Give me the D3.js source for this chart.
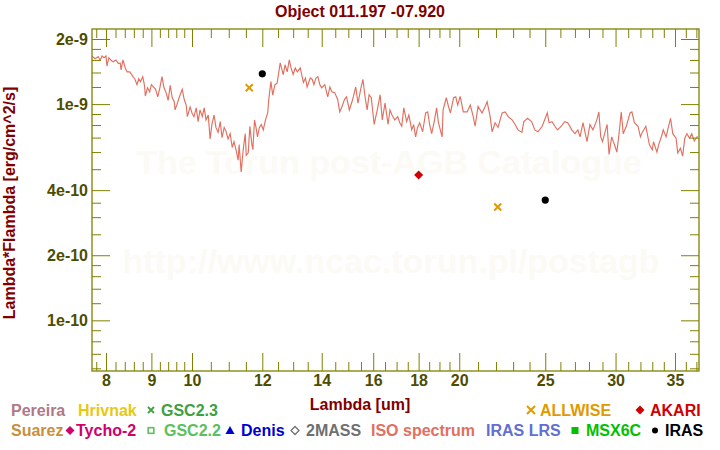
<!DOCTYPE html>
<html><head><meta charset="utf-8">
<script src="https://cdn.jsdelivr.net/npm/d3@7"></script>
<style>body{margin:0;background:#fff}svg{display:block}</style>
</head><body><svg id="c" width="720" height="450"></svg>
<script>
const chartTitle = "Object 011.197 -07.920";
const xTitle = "Lambda [um]";
const yTitle = "Lambda*Flambda [erg/cm^2/s]";

// ISO spectrum (wavelength in um, lambda*F_lambda in erg/cm^2/s)
const isoWave = [7.72,7.78,7.84,7.88,7.92,7.96,8.00,8.02,8.06,8.11,8.15,8.21,8.26,8.30,8.32,8.36,8.41,8.45,8.51,8.58,8.62,8.67,8.71,8.75,8.80,8.84,8.86,8.91,8.96,9.00,
9.10,9.15,9.20,9.25,9.30,9.35,9.40,9.45,9.50,9.55,9.57,9.62,9.67,9.75,9.80,9.85,9.88,9.95,10.00,10.05,10.11,10.16,10.21,10.27,10.32,10.37,10.43,10.48,10.53,10.59,
10.64,10.70,10.76,10.81,10.87,10.92,10.98,11.04,11.10,11.15,11.21,11.27,11.30,11.36,11.42,11.48,11.51,11.57,11.62,11.68,11.71,11.76,11.82,11.85,11.91,11.97,12.03,12.10,12.17,12.20,
12.27,12.33,12.40,12.47,12.57,12.67,12.73,12.80,12.87,12.93,13.00,13.07,13.14,13.24,13.35,13.42,13.48,13.59,13.66,13.72,13.79,13.86,13.93,14.00,14.11,14.22,14.30,14.37,14.48,14.59,
14.67,14.78,14.85,14.93,15.04,15.17,15.29,15.38,15.50,15.58,15.67,15.75,15.83,15.92,16.04,16.17,16.29,16.38,16.50,16.63,16.71,16.80,16.92,17.05,17.14,17.23,17.32,17.45,17.55,17.68,
17.77,17.86,17.95,18.05,18.19,18.33,18.43,18.52,18.62,18.76,18.86,18.95,19.13,19.18,19.34,19.45,19.55,19.71,19.82,19.92,20.05,20.21,20.42,20.58,20.74,20.84,21.00,21.22,21.39,21.50,
21.67,21.78,21.95,22.12,22.35,22.53,22.71,22.94,23.12,23.29,23.53,23.65,23.88,24.13,24.33,24.53,24.80,25.00,25.13,25.25,25.44,25.63,25.81,26.06,26.29,26.50,26.78,27.00,27.21,27.36,
27.57,27.86,28.07,28.29,28.58,28.73,28.87,29.00,29.35,29.50,29.70,29.95,30.10,30.25,30.45,30.60,30.85,31.15,31.30,31.50,31.80,32.00,32.15,32.45,32.75,33.00,33.10,33.40,33.55,33.80,
33.95,34.20,34.40,34.60,34.80,35.10,35.25,35.50,35.70,35.90,36.10,36.35,36.55,36.80,37.10];
const isoFlux = [16.6e-10,16.2e-10,16.6e-10,16.0e-10,16.7e-10,16.4e-10,16.7e-10,15.0e-10,16.4e-10,15.9e-10,15.7e-10,16.0e-10,15.4e-10,15.5e-10,14.4e-10,16.0e-10,14.7e-10,14.1e-10,14.1e-10,13.4e-10,13.1e-10,12.3e-10,13.1e-10,12.7e-10,13.4e-10,12.2e-10,10.9e-10,11.9e-10,11.4e-10,12.3e-10,
11.7e-10,10.8e-10,11.9e-10,13.4e-10,11.9e-10,11.3e-10,10.4e-10,12.2e-10,10.7e-10,10.25e-10,9.4e-10,10.0e-10,10.7e-10,11.7e-10,10.5e-10,9.9e-10,8.75e-10,9.7e-10,9.1e-10,8.75e-10,9.6e-10,8.3e-10,9.4e-10,8.75e-10,9.6e-10,8.45e-10,8.9e-10,6.9e-10,8.05e-10,8.9e-10,
7.8e-10,7.4e-10,8.3e-10,7.0e-10,7.8e-10,7.5e-10,6.9e-10,7.3e-10,6.3e-10,6.7e-10,6.15e-10,5.5e-10,6.5e-10,4.85e-10,6.15e-10,7.3e-10,5.8e-10,5.95e-10,7.9e-10,6.5e-10,6.15e-10,8.45e-10,7.6e-10,7.05e-10,7.8e-10,8.05e-10,7.6e-10,8.45e-10,9.1e-10,10.4e-10,
12.7e-10,11.0e-10,12.3e-10,12.5e-10,15.5e-10,13.7e-10,15.2e-10,14.1e-10,16.0e-10,14.7e-10,13.7e-10,14.7e-10,14.1e-10,14.7e-10,12.6e-10,13.2e-10,12.0e-10,13.2e-10,13.0e-10,12.3e-10,13.2e-10,13.4e-10,12.3e-10,11.9e-10,12.3e-10,10.8e-10,12.0e-10,11.4e-10,11.3e-10,10.5e-10,
9.2e-10,9.9e-10,10.5e-10,10.8e-10,9.4e-10,10.5e-10,12.0e-10,10.1e-10,11.9e-10,13.0e-10,10.7e-10,9.4e-10,11.05e-10,10.7e-10,8.05e-10,9.4e-10,11.05e-10,8.45e-10,10.1e-10,8.05e-10,9.4e-10,8.9e-10,8.45e-10,8.75e-10,8.2e-10,7.9e-10,9.6e-10,8.3e-10,8.9e-10,7.6e-10,
8.05e-10,7.05e-10,7.8e-10,8.2e-10,7.45e-10,9.1e-10,9.2e-10,8.05e-10,7.3e-10,8.45e-10,9.6e-10,8.2e-10,7.05e-10,9.4e-10,10.7e-10,9.75e-10,9.1e-10,10.7e-10,10.8e-10,9.9e-10,10.85e-10,9.2e-10,9.2e-10,9.9e-10,8.75e-10,7.9e-10,9.75e-10,9.1e-10,9.75e-10,10.25e-10,
8.75e-10,7.45e-10,8.2e-10,7.8e-10,9.1e-10,9.2e-10,8.75e-10,8.45e-10,8.05e-10,7.6e-10,7.4e-10,8.3e-10,8.6e-10,8.3e-10,7.6e-10,7.45e-10,7.9e-10,8.6e-10,9.1e-10,8.2e-10,8.3e-10,7.9e-10,7.6e-10,7.9e-10,8.3e-10,8.2e-10,7.6e-10,7.3e-10,7.6e-10,7.05e-10,
8.2e-10,6.7e-10,8.05e-10,7.6e-10,8.45e-10,9.2e-10,7.05e-10,6.7e-10,8.05e-10,5.85e-10,7.05e-10,6.4e-10,6.0e-10,7.1e-10,9.2e-10,7.3e-10,7.9e-10,9.1e-10,9.2e-10,8.2e-10,7.9e-10,7.05e-10,7.4e-10,7.9e-10,6.5e-10,6.15e-10,6.7e-10,6.0e-10,6.5e-10,7.1e-10,
7.6e-10,7.05e-10,7.8e-10,8.6e-10,7.3e-10,6.95e-10,5.95e-10,6.25e-10,5.75e-10,6.95e-10,7.3e-10,6.95e-10,7.3e-10,6.75e-10,7.1e-10];

// Photometry
const allwiseWave = [11.6, 22.1];
const allwiseFlux = [1.19e-9, 3.34e-10];
const irasWave = [12, 25];
const irasFlux = [1.38e-9, 3.6e-10];
const akariWave = [18];
const akariFlux = [4.7e-10];

// Ticks
const xMajor = [8,9,10,12,14,16,18,20,25,30,35];
const xMinor = [7.8,8.2,8.4,8.6,8.8,9.2,9.4,9.6,9.8,10.5,11,11.5,12.5,13,13.5,14.5,15,15.5,16.5,17,17.5,18.5,19,19.5,21,22,23,24,26,27,28,29,31,32,33,34,36,37];
const yMajor = [1e-10,2e-10,4e-10,1e-9,2e-9];
const yMajorLabels = ["1e-10","2e-10","4e-10","1e-9","2e-9"];
const yMinor = [6e-11,7e-11,8e-11,9e-11,1.2e-10,1.4e-10,1.6e-10,1.8e-10,2.5e-10,3e-10,3.5e-10,5e-10,6e-10,7e-10,8e-10,9e-10,1.2e-9,1.4e-9,1.6e-9,1.8e-9];

const watermark = ["The Torun post-AGB Catalogue", "http://www.ncac.torun.pl/postagb"];

const FONT = "'Liberation Sans', Arial, Helvetica, sans-serif";
const AX = "#808000", TICKTXT = "#4d4d00", DARKRED = "#800000", ISOC = "#e07060";
const L = 92, R = 699, T = 29, B = 371;

const svg = d3.select("#c");
svg.append("rect").attr("width",720).attr("height",450).attr("fill","#fff");

const x = d3.scaleLog().domain([7.715, 37.25]).range([L, R]);
const y = d3.scaleLog().domain([5.83e-11, 2.225e-9]).range([B, T]);

// watermark
svg.selectAll("text.wm").data(watermark).join("text")
  .attr("x", (d,i)=> i===0 ? 389 : 391).attr("y",(d,i)=> i===0 ? 174 : 273)
  .attr("text-anchor","middle")
  .style("font-family",FONT).style("font-weight","bold").style("font-size","34px")
  .attr("fill","#fbfaf5").text(d=>d);

// clip
svg.append("clipPath").attr("id","clip").append("rect").attr("x",L).attr("y",T).attr("width",R-L).attr("height",B-T);

// spectrum
const iso = isoWave.map((w,i)=>[w, isoFlux[i]]);
svg.append("path").datum(iso).attr("clip-path","url(#clip)")
  .attr("fill","none").attr("stroke",ISOC).attr("stroke-width",1.15)
  .attr("d", d3.line().x(d=>x(d[0])).y(d=>y(d[1])));

// axes
function styleAxis(g){
  g.attr("font-family",null).attr("font-size",null);
  g.select(".domain").remove();
  g.selectAll(".tick line").attr("stroke",AX).attr("stroke-width",1);
  g.selectAll(".tick text").style("font-family",FONT).style("font-weight","bold").style("font-size","16px").attr("fill",TICKTXT);
}
const ax = [
  [d3.axisBottom(x).tickValues(xMajor).tickSizeInner(-18).tickSizeOuter(0).tickPadding(4).tickFormat(d=>d), `translate(0,${B})`],
  [d3.axisBottom(x).tickValues(xMinor).tickSizeInner(-9).tickSizeOuter(0).tickFormat(""), `translate(0,${B})`],
  [d3.axisTop(x).tickValues(xMajor).tickSizeInner(-18).tickSizeOuter(0).tickFormat(""), `translate(0,${T})`],
  [d3.axisTop(x).tickValues(xMinor).tickSizeInner(-9).tickSizeOuter(0).tickFormat(""), `translate(0,${T})`],
  [d3.axisLeft(y).tickValues(yMajor).tickSizeInner(-18).tickSizeOuter(0).tickPadding(4).tickFormat((d,i)=>yMajorLabels[i]), `translate(${L},0)`],
  [d3.axisLeft(y).tickValues(yMinor).tickSizeInner(-9).tickSizeOuter(0).tickFormat(""), `translate(${L},0)`],
  [d3.axisRight(y).tickValues(yMajor).tickSizeInner(-18).tickSizeOuter(0).tickFormat(""), `translate(${R},0)`],
  [d3.axisRight(y).tickValues(yMinor).tickSizeInner(-9).tickSizeOuter(0).tickFormat(""), `translate(${R},0)`]
];
ax.forEach(([a,t])=>{ const g = svg.append("g").attr("transform",t).call(a); styleAxis(g); });

svg.append("rect").attr("x",L).attr("y",T).attr("width",R-L).attr("height",B-T)
  .attr("fill","none").attr("stroke",AX).attr("stroke-width",1.3);

// photometry markers
const allwise = allwiseWave.map((w,i)=>[w, allwiseFlux[i]]);
svg.selectAll("path.aw").data(allwise).join("path")
  .attr("transform",d=>`translate(${x(d[0])},${y(d[1])})`)
  .attr("d","M-3.5,-3.5L3.5,3.5M-3.5,3.5L3.5,-3.5").attr("stroke","#e09a00").attr("stroke-width",2).attr("fill","none");
const iras = irasWave.map((w,i)=>[w, irasFlux[i]]);
svg.selectAll("circle.ir").data(iras).join("circle")
  .attr("cx",d=>x(d[0])).attr("cy",d=>y(d[1])).attr("r",3.6).attr("fill","#000");
const akari = akariWave.map((w,i)=>[w, akariFlux[i]]);
svg.selectAll("path.ak").data(akari).join("path")
  .attr("transform",d=>`translate(${x(d[0])},${y(d[1])})`)
  .attr("d","M0,-4.5L4.5,0L0,4.5L-4.5,0Z").attr("fill","#d00000");

// titles
function txt(s, xx, yy, color, size, anchor){
  return svg.append("text").attr("x",xx).attr("y",yy).attr("text-anchor",anchor||"start")
    .style("font-family",FONT).style("font-weight","bold").style("font-size",(size||16)+"px")
    .attr("fill",color).text(s);
}
txt(chartTitle, 360, 17, DARKRED, 16, "middle");
txt(xTitle, 360, 410, DARKRED, 16, "middle");
svg.append("text").attr("transform","translate(15,203) rotate(-90)").attr("text-anchor","middle")
  .style("font-family",FONT).style("font-weight","bold").style("font-size","16px")
  .attr("fill",DARKRED).text(yTitle);

// legend
const legendItems = [
  {t:"Pereira", c:"#b07888", x:11, r:0},
  {t:"Hrivnak", c:"#e8c810", x:78, r:0},
  {t:"GSC2.3", c:"#40a040", x:161, r:0, s:"x", sx:151, sc:"#40a040"},
  {t:"ALLWISE", c:"#e09a00", x:540, r:0, s:"X", sx:531, sc:"#e09a00"},
  {t:"AKARI", c:"#d00000", x:650, r:0, s:"d", sx:640, sc:"#d00000"},
  {t:"Suarez", c:"#c8903c", x:11, r:1},
  {t:"Tycho-2", c:"#d0006e", x:76, r:1, s:"d", sx:70, sc:"#d0006e"},
  {t:"GSC2.2", c:"#5cc05c", x:164, r:1, s:"o", sx:151, sc:"#5cc05c"},
  {t:"Denis", c:"#0000d0", x:241, r:1, s:"t", sx:230, sc:"#0000d0"},
  {t:"2MASS", c:"#707070", x:306, r:1, s:"D", sx:295, sc:"#707070"},
  {t:"ISO spectrum", c:"#e07060", x:371, r:1},
  {t:"IRAS LRS", c:"#6070d0", x:486, r:1},
  {t:"MSX6C", c:"#00c000", x:586, r:1, s:"s", sx:575, sc:"#00c000"},
  {t:"IRAS", c:"#000000", x:665, r:1, s:"c", sx:655, sc:"#000000"}
];
const rowBase = [415.5, 435.5], rowMid = [410, 430.5];
legendItems.forEach(it=>{
  txt(it.t, it.x, rowBase[it.r], it.c, 16, "start");
  if(!it.s) return;
  const g = svg.append("g").attr("transform",`translate(${it.sx},${rowMid[it.r]})`);
  if(it.s==="x") g.append("path").attr("d","M-3,-3L3,3M-3,3L3,-3").attr("stroke",it.sc).attr("stroke-width",1.8);
  if(it.s==="X") g.append("path").attr("d","M-4,-4L4,4M-4,4L4,-4").attr("stroke",it.sc).attr("stroke-width",2);
  if(it.s==="d") g.append("path").attr("d","M0,-4.5L4.5,0L0,4.5L-4.5,0Z").attr("fill",it.sc);
  if(it.s==="D") g.append("path").attr("d","M0,-4L4,0L0,4L-4,0Z").attr("fill","none").attr("stroke",it.sc).attr("stroke-width",1.3);
  if(it.s==="o") g.append("rect").attr("x",-2.8).attr("y",-2.8).attr("width",5.6).attr("height",5.6).attr("fill","none").attr("stroke",it.sc).attr("stroke-width",1.6);
  if(it.s==="s") g.append("rect").attr("x",-3.5).attr("y",-3.5).attr("width",7).attr("height",7).attr("fill",it.sc);
  if(it.s==="t") g.append("path").attr("d","M0,-4.5L4.5,3.5L-4.5,3.5Z").attr("fill",it.sc);
  if(it.s==="c") g.append("circle").attr("r",3).attr("fill",it.sc);
});
</script></body></html>
